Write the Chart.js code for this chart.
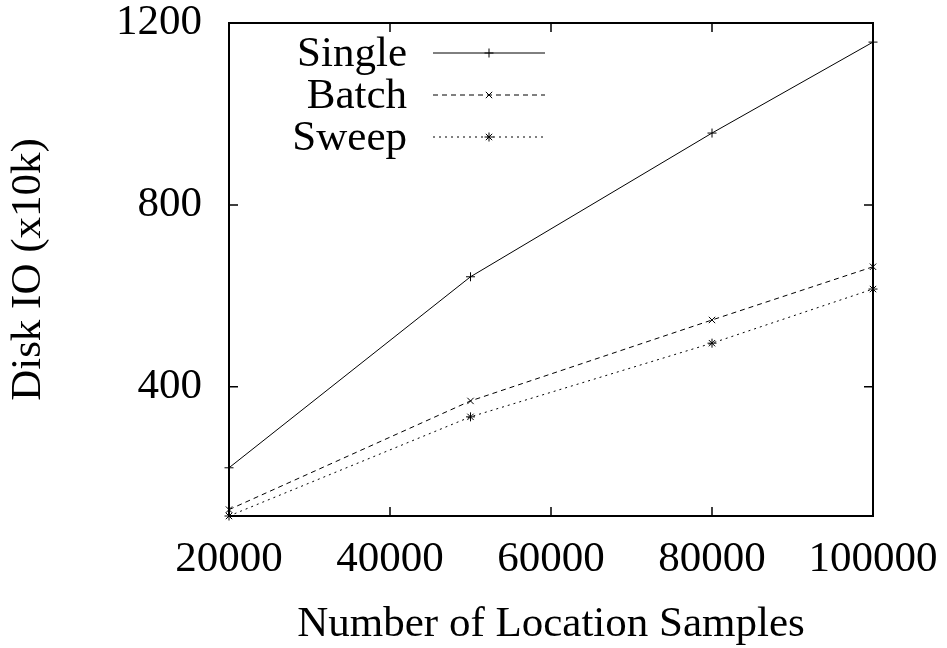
<!DOCTYPE html>
<html>
<head>
<meta charset="utf-8">
<script src="https://cdn.jsdelivr.net/npm/chart.js@4"></script>
<style>
  html, body { margin: 0; padding: 0; background: #fff; }
  #wrap { width: 947px; height: 648px; }
</style>
</head>
<body>
<div id="wrap"><canvas id="ioChart"></canvas></div>
<script>
// data
const samples = [20000, 50000, 80000, 100000];
const single = [222, 642, 958, 1158];
const batch = [130, 369, 547, 664];
const sweep = [116, 334, 496, 615];
const seriesNames = ['Single', 'Batch', 'Sweep'];
const yTicks = [400, 800, 1200];
const xTicks = [20000, 40000, 60000, 80000, 100000];

const font = 'Liberation Serif';
const fsize = 43;

function toPoints(vals) {
    return samples.map((s, i) => ({ x: s, y: vals[i] }));
}

function serie(label, vals, dash, style) {
    return {
        label: label,
        data: toPoints(vals),
        borderColor: '#000',
        backgroundColor: '#000',
        borderWidth: 1,
        borderDash: dash,
        pointStyle: style,
        pointRadius: 4.5,
        pointBorderWidth: 1,
        pointBorderColor: '#000',
        tension: 0,
        clip: false
    };
}

// no extra room for tick labels, the box is placed by layout padding
function noPad(s) {
    s.paddingTop = 0; s.paddingBottom = 0;
    s.paddingLeft = 0; s.paddingRight = 0;
}

// gnuplot style box with inward ticks + key at top left
const framePlugin = {
    id: 'frame',
    afterDatasetsDraw(chart) {
        const ctx = chart.ctx;
        const a = chart.chartArea;
        const xs = chart.scales.x, ys = chart.scales.y;
        const tl = 9;
        ctx.save();
        ctx.strokeStyle = '#000';
        ctx.lineWidth = 2;
        ctx.setLineDash([]);
        ctx.strokeRect(a.left, a.top, a.right - a.left, a.bottom - a.top);
        ctx.lineWidth = 1.5;
        ctx.beginPath();
        xs.ticks.forEach(t => {
            const px = xs.getPixelForValue(t.value);
            ctx.moveTo(px, a.bottom); ctx.lineTo(px, a.bottom - tl);
            ctx.moveTo(px, a.top); ctx.lineTo(px, a.top + tl);
        });
        ys.ticks.forEach(t => {
            const py = ys.getPixelForValue(t.value);
            ctx.moveTo(a.left, py); ctx.lineTo(a.left + tl, py);
            ctx.moveTo(a.right, py); ctx.lineTo(a.right - tl, py);
        });
        ctx.stroke();

        // key
        ctx.font = fsize + 'px "' + font + '"';
        ctx.fillStyle = '#000';
        ctx.textAlign = 'right';
        ctx.textBaseline = 'middle';
        chart.data.datasets.forEach((ds, i) => {
            const cy = 53 + i * 42;
            ctx.fillText(ds.label, 407, cy + 2);
            ctx.lineWidth = 1;
            ctx.setLineDash(ds.borderDash);
            ctx.beginPath();
            ctx.moveTo(433, cy); ctx.lineTo(545, cy);
            ctx.stroke();
            ctx.setLineDash([]);
            Chart.helpers.drawPoint(ctx, { pointStyle: ds.pointStyle, radius: 4.5, borderWidth: 1, rotation: 0 }, 489, cy);
        });
        ctx.restore();
    }
};

const ctx = document.getElementById('ioChart').getContext('2d');
const ioChart = new Chart(ctx, {
    type: 'line',
    data: {
        datasets: [
            serie(seriesNames[0], single, [], 'cross'),
            serie(seriesNames[1], batch, [5, 4], 'crossRot'),
            serie(seriesNames[2], sweep, [2, 4], 'star')
        ]
    },
    options: {
        responsive: true,
        maintainAspectRatio: false,
        animation: false,
        layout: { autoPadding: false, padding: { left: 0, right: 74, top: 23, bottom: 0 } },
        plugins: {
            legend: { display: false },
            tooltip: { enabled: false }
        },
        scales: {
            x: {
                type: 'linear',
                min: 20000,
                max: 100000,
                afterBuildTicks: s => { s.ticks = xTicks.map(v => ({ value: v })); },
                afterFit: s => { s.height = 132; noPad(s); },
                grid: { display: false, drawTicks: false },
                border: { display: false },
                ticks: {
                    color: '#000',
                    padding: 22,
                    maxRotation: 0,
                    font: { family: font, size: fsize, lineHeight: 1 },
                    callback: v => String(v)
                },
                title: {
                    display: true,
                    text: 'Number of Location Samples',
                    color: '#000',
                    padding: 0,
                    font: { family: font, size: fsize, lineHeight: 1.1 }
                }
            },
            y: {
                type: 'linear',
                min: 116,
                max: 1200,
                afterBuildTicks: s => { s.ticks = yTicks.map(v => ({ value: v })); },
                afterFit: s => { s.width = 229; noPad(s); },
                grid: { display: false, drawTicks: false },
                border: { display: false },
                ticks: {
                    color: '#000',
                    padding: 27,
                    font: { family: font, size: fsize, lineHeight: 1 },
                    callback: v => String(v)
                },
                title: {
                    display: true,
                    text: 'Disk IO (x10k)',
                    color: '#000',
                    padding: 5,
                    font: { family: font, size: fsize, lineHeight: 1.1 }
                }
            }
        }
    },
    plugins: [framePlugin]
});
</script>
</body>
</html>
